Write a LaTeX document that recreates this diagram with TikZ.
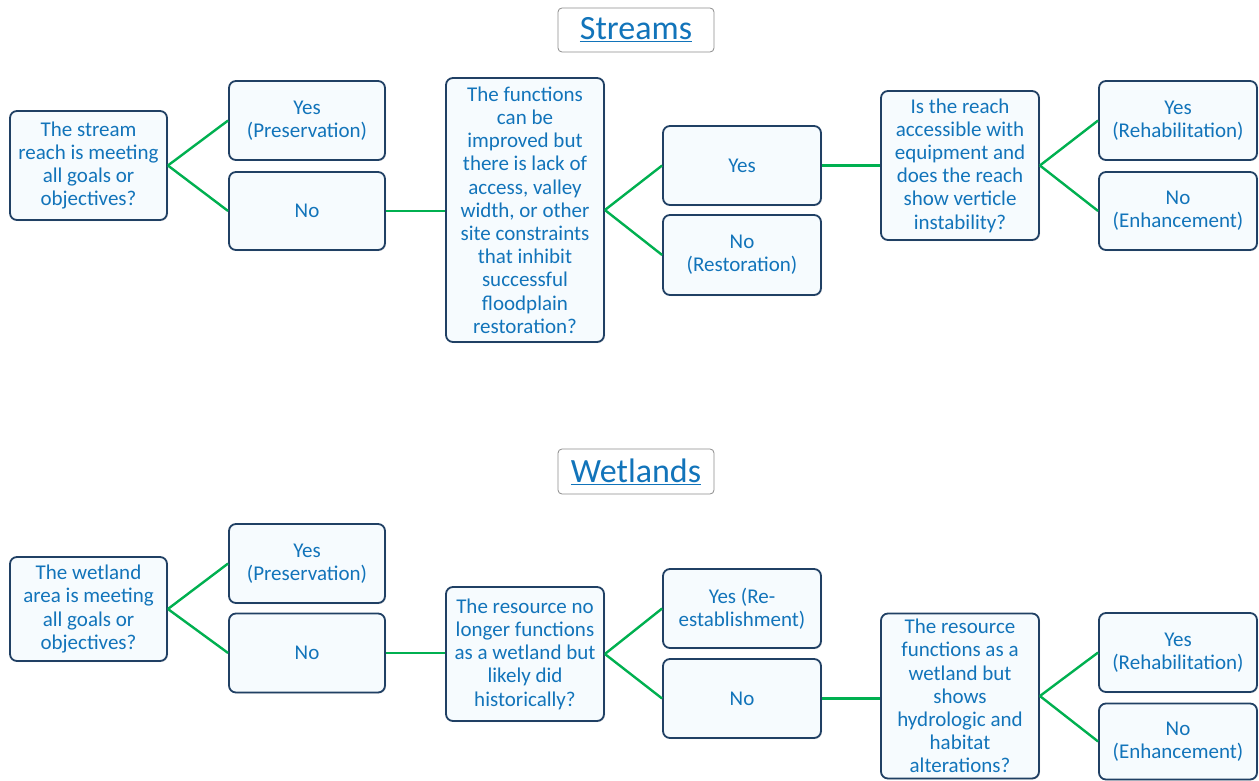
\documentclass[tikz,border=0pt]{standalone}
\usepackage{fontspec}
\setmainfont{Carlito}
\usetikzlibrary{shadows}
\definecolor{txtblue}{RGB}{18,116,186}
\definecolor{boxline}{RGB}{32,64,100}
\definecolor{boxfill}{RGB}{246,251,254}
\definecolor{conn}{RGB}{0,176,80}
\definecolor{titleline}{RGB}{140,140,140}
\tikzset{
  box/.style={draw=boxline, line width=1.8pt, fill=boxfill, rounded corners=7pt,
    align=center, inner sep=0pt, text=txtblue,
    font=\fontsize{21}{23.2}\selectfont,
    drop shadow={opacity=0.25, shadow xshift=1pt, shadow yshift=-1pt}},
  titlebox/.style={draw=titleline, line width=0.8pt, fill=white, rounded corners=4pt,
    minimum width=156pt, minimum height=44pt, inner sep=0pt, text=txtblue,
    font=\fontsize{34}{38}\selectfont},
  link/.style={draw=conn, line width=2.4pt}
}
\begin{document}
\begin{tikzpicture}[x=1pt,y=-1pt]
\useasboundingbox (0,0) rectangle (1259,781);
% Streams
\node[titlebox] (t1) at (636,30) {\underline{Streams}};
\node[box, minimum width=157pt, minimum height=109pt] (a1) at (88.5,165.5) {The stream\\reach is meeting\\all goals or\\objectives?};
\node[box, minimum width=156pt, minimum height=79pt] (y1) at (307,120.5) {Yes\\(Preservation)};
\node[box, minimum width=156pt, minimum height=78pt] (n1) at (307,211) {No};
\node[box, minimum width=158pt, minimum height=264pt] (b1) at (525,210) {The functions\\can be\\improved but\\there is lack of\\access, valley\\width, or other\\site constraints\\that inhibit\\successful\\floodplain\\restoration?};
\node[box, minimum width=158pt, minimum height=79pt] (y2) at (742,165.5) {Yes};
\node[box, minimum width=158pt, minimum height=80pt] (n2) at (742,255) {No\\(Restoration)};
\node[box, minimum width=158pt, minimum height=149pt] (c1) at (960,165.5) {Is the reach\\accessible with\\equipment and\\does the reach\\show verticle\\instability?};
\node[box, minimum width=158pt, minimum height=79pt] (y3) at (1178,120.5) {Yes\\(Rehabilitation)};
\node[box, minimum width=158pt, minimum height=78pt] (n3) at (1178,211) {No\\(Enhancement)};
\draw[link] (a1.east) -- (y1.west);
\draw[link] (a1.east) -- (n1.west);
\draw[link] (n1.east) -- (n1.east -| b1.west);
\draw[link] (b1.east) -- (y2.west);
\draw[link] (b1.east) -- (n2.west);
\draw[link] (y2.east) -- (c1.west);
\draw[link] (c1.east) -- (y3.west);
\draw[link] (c1.east) -- (n3.west);
% Wetlands
\node[titlebox, minimum height=45pt] (t2) at (636,471.5) {\underline{Wetlands}};
\node[box, minimum width=157pt, minimum height=104pt] (a2) at (88.5,609) {The wetland\\area is meeting\\all goals or\\objectives?};
\node[box, minimum width=156pt, minimum height=79pt] (y4) at (307,563.5) {Yes\\(Preservation)};
\node[box, minimum width=156pt, minimum height=79pt] (n4) at (307,653) {No};
\node[box, minimum width=158pt, minimum height=134pt] (b2) at (525,654) {The resource no\\longer functions\\as a wetland but\\likely did\\historically?};
\node[box, minimum width=158pt, minimum height=79pt] (y5) at (742,608.5) {Yes (Re-\\establishment)};
\node[box, minimum width=158pt, minimum height=79pt] (n5) at (742,698.5) {No};
\node[box, minimum width=158pt, minimum height=165pt] (c2) at (960,696) {The resource\\functions as a\\wetland but\\shows\\hydrologic and\\habitat\\alterations?};
\node[box, minimum width=158pt, minimum height=79pt] (y6) at (1178,652.5) {Yes\\(Rehabilitation)};
\node[box, minimum width=158pt, minimum height=76pt] (n6) at (1178,741.5) {No\\(Enhancement)};
\draw[link] (a2.east) -- (y4.west);
\draw[link] (a2.east) -- (n4.west);
\draw[link] (n4.east) -- (n4.east -| b2.west);
\draw[link] (b2.east) -- (y5.west);
\draw[link] (b2.east) -- (n5.west);
\draw[link] (n5.east) -- (n5.east -| c2.west);
\draw[link] (c2.east) -- (y6.west);
\draw[link] (c2.east) -- (n6.west);
\end{tikzpicture}
\end{document}
